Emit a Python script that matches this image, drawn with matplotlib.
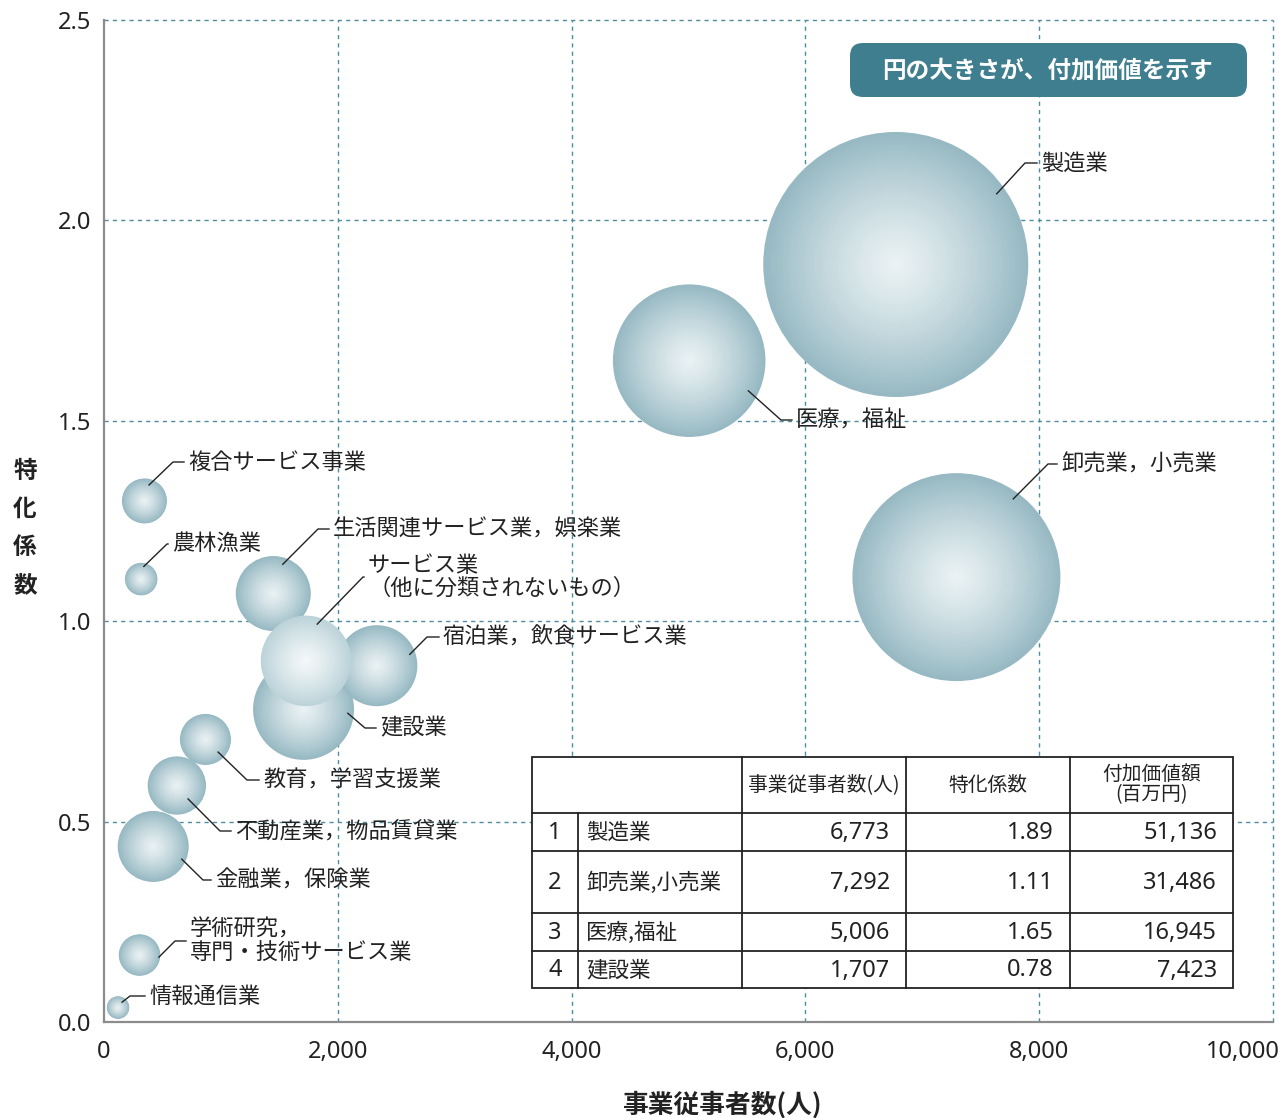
import numpy as np
import matplotlib
matplotlib.use('Agg')
import matplotlib.pyplot as plt
from matplotlib.patches import FancyBboxPatch, Rectangle
from matplotlib.colors import to_rgb
from matplotlib.ticker import FuncFormatter
from matplotlib.transforms import ScaledTranslation

plt.rcParams['font.family'] = ['Noto Sans CJK JP', 'DejaVu Sans']
NUM_FONT = ['Noto Sans', 'DejaVu Sans']

W, H, DPI = 1285, 1118, 100

## data (x: 事業従事者数, y: 特化係数, size: 付加価値額)
industries = ['製造業', '卸売業，小売業', '医療，福祉', '複合サービス事業', '農林漁業',
              '生活関連サービス業，娯楽業', '建設業', '宿泊業，飲食サービス業',
              'サービス業\n（他に分類されないもの）', '教育，学習支援業',
              '不動産業，物品賃貸業', '金融業，保険業', '学術研究，\n専門・技術サービス業',
              '情報通信業']
workers = [6773, 7292, 5006, 346, 318, 1448, 1707, 2334, 1728, 868, 623, 421, 304, 120]
coef = [1.89, 1.11, 1.65, 1.30, 1.105, 1.069, 0.78, 0.889, 0.901, 0.705, 0.590, 0.438, 0.167, 0.036]
value_added = [51136, 31486, 16945, 1475, 769, 4096, 7423, 4777, 5964, 1894, 2475, 3671, 1254, 369]

# table (上位4業種)
table_rank = ['1', '2', '3', '4']
table_name = ['製造業', '卸売業,小売業', '医療,福祉', '建設業']
table_workers = [6773, 7292, 5006, 1707]
table_coef = [1.89, 1.11, 1.65, 0.78]
table_value = [51136, 31486, 16945, 7423]
table_header = ['事業従事者数(人)', '特化係数', '付加価値額\n(百万円)']

x_ticks = [0, 2000, 4000, 6000, 8000, 10000]
y_ticks = [0.0, 0.5, 1.0, 1.5, 2.0, 2.5]

# label layout: angle on bubble (deg), fraction of radius, elbow px (x, y), text x px
label_layout = [
    (35, 0.93, 1025, 163, 1041),
    (54, 0.93, 1048, 464, 1061),
    (-27, 0.87, 781, 420, 796),
    (74, 0.74, 173, 462, 188),
    (78, 0.80, 167, 544, 172),
    (72, 0.82, 318, 529, 333),
    (-5, 0.88, 365, 728, 380),
    (19, 0.86, 427, 637, 443),
    (73, 0.85, 363, 577, 368),
    (-45, 0.70, 247, 780, 263),
    (-50, 0.60, 220, 831, 235),
    (-24, 0.88, 203, 880, 215),
    (-6, 0.94, 175, 941, 190),
    (53, 0.60, 130, 996, 149),
]

SIZE_PER_VALUE = 0.712   # points^2 per 百万円
edge_col = np.array(to_rgb('#97b9c3'))
center_col = np.array(to_rgb('#eaf2f4'))
edge_light = np.array(to_rgb('#bcd3d9'))
center_light = np.array(to_rgb('#f4f8f9'))

fig = plt.figure(figsize=(W / DPI, H / DPI), dpi=DPI)
ax = fig.add_axes([104 / W, 1 - 1022 / H, (1273 - 104) / W, (1022 - 20) / H])
ax.set_xlim(0, 10000)
ax.set_ylim(0, 2.5)

# grid
grid_c = '#4f8da1'
for xv in x_ticks[1:]:
    ax.axvline(xv, color=grid_c, lw=1, ls=(0, (3, 3)), zorder=0, clip_on=False)
for yv in y_ticks[1:]:
    ax.axhline(yv, color=grid_c, lw=1, ls=(0, (3, 3)), zorder=0, clip_on=False)

ax.spines['top'].set_visible(False)
ax.spines['right'].set_visible(False)
for sp in ['left', 'bottom']:
    ax.spines[sp].set_color('#8c8c8c')
    ax.spines[sp].set_linewidth(1.6)
ax.set_xticks(x_ticks)
ax.set_yticks(y_ticks)
ax.xaxis.set_major_formatter(FuncFormatter(lambda v, _: f'{v:,.0f}'))
ax.yaxis.set_major_formatter(FuncFormatter(lambda v, _: f'{v:.1f}'))
ax.tick_params(length=0, labelsize=17, colors='#222222')
ax.tick_params(axis='x', pad=13)
ax.tick_params(axis='y', pad=9.5)
for lab in ax.get_xticklabels() + ax.get_yticklabels():
    lab.set_family(NUM_FONT)
last = ax.get_xticklabels()[-1]
last.set_horizontalalignment('right')
last.set_transform(last.get_transform() + ScaledTranslation(7 / DPI, 0, fig.dpi_scale_trans))

# bubbles with radial shading
t = np.linspace(1, 0.02, 50)
sizes = [v * SIZE_PER_VALUE for v in value_added]
for i in range(len(industries)):
    if industries[i].startswith('サービス業'):
        e, c = edge_light, center_light
    else:
        e, c = edge_col, center_col
    cols = c + (e - c) * (t[:, None] ** 1.25)
    ax.scatter([workers[i]] * len(t), [coef[i]] * len(t), s=sizes[i] * t ** 2,
               c=cols, linewidths=0, zorder=2 + i * 0.01)

# overlay in pixel coordinates for labels, box, table
ov = fig.add_axes([0, 0, 1, 1], zorder=5)
ov.set_xlim(0, W)
ov.set_ylim(H, 0)
ov.axis('off')
ov.patch.set_alpha(0)

for i, name in enumerate(industries):
    cx, cy = ax.transData.transform((workers[i], coef[i]))
    cy = H - cy
    r = np.sqrt(sizes[i]) / 2 * DPI / 72
    ang, frac, ex, ey, tx = label_layout[i]
    sx = cx + frac * r * np.cos(np.radians(ang))
    sy = cy - frac * r * np.sin(np.radians(ang))
    ov.plot([sx, ex, max(ex, tx - 4)], [sy, ey, ey], color='#222222', lw=1.0)
    ov.text(tx, ey, name, ha='left', va='center', fontsize=16, color='#222222',
            linespacing=1.0)

# title box
box = FancyBboxPatch((850, 43), 397, 54, boxstyle='round,pad=0,rounding_size=13',
                     facecolor='#3f7e8e', edgecolor='none')
ov.add_patch(box)
ov.text(1048, 70, '円の大きさが、付加価値を示す', ha='center', va='center',
        fontsize=17, fontweight='bold', color='white')

# table
col_x = [532, 578, 742, 906, 1070, 1233]
row_y = [757, 813, 851, 913, 951, 988]
ov.add_patch(Rectangle((col_x[0], row_y[0]), col_x[-1] - col_x[0], row_y[-1] - row_y[0],
                       facecolor='white', edgecolor='#222222', lw=1.3))
for yy in row_y[1:-1]:
    ov.plot([col_x[0], col_x[-1]], [yy, yy], color='#222222', lw=1.3)
ov.plot([col_x[1], col_x[1]], [row_y[1], row_y[-1]], color='#222222', lw=1.3)
for xx in col_x[2:-1]:
    ov.plot([xx, xx], [row_y[0], row_y[-1]], color='#222222', lw=1.3)

hy = (row_y[0] + row_y[1]) / 2
for j, h in enumerate(table_header):
    ov.text((col_x[j + 2] + col_x[j + 3]) / 2, hy, h, ha='center', va='center',
            fontsize=14.2, color='#222222', linespacing=0.95)
for k in range(len(table_rank)):
    yy = (row_y[k + 1] + row_y[k + 2]) / 2 + 1
    ov.text((col_x[0] + col_x[1]) / 2, yy, table_rank[k], ha='center', va='center',
            fontsize=17, color='#222222', family=NUM_FONT)
    ov.text(col_x[1] + 8, yy, table_name[k], ha='left', va='center',
            fontsize=15.5, color='#222222')
    ov.text(col_x[3] - 16, yy, f'{table_workers[k]:,}', ha='right', va='center',
            fontsize=17, color='#222222', family=NUM_FONT)
    ov.text(col_x[4] - 16, yy, f'{table_coef[k]:.2f}', ha='right', va='center',
            fontsize=17, color='#222222', family=NUM_FONT)
    ov.text(col_x[5] - 16, yy, f'{table_value[k]:,}', ha='right', va='center',
            fontsize=17, color='#222222', family=NUM_FONT)

# axis titles
ov.text(722, 1105, '事業従事者数(人)', ha='center', va='center', fontsize=18.5,
        fontweight='bold', color='#222222')
ov.text(25, 528, '特\n化\n係\n数', ha='center', va='center', fontsize=17,
        fontweight='bold', color='#222222', linespacing=1.75)

fig.savefig('out.png', dpi=DPI)
